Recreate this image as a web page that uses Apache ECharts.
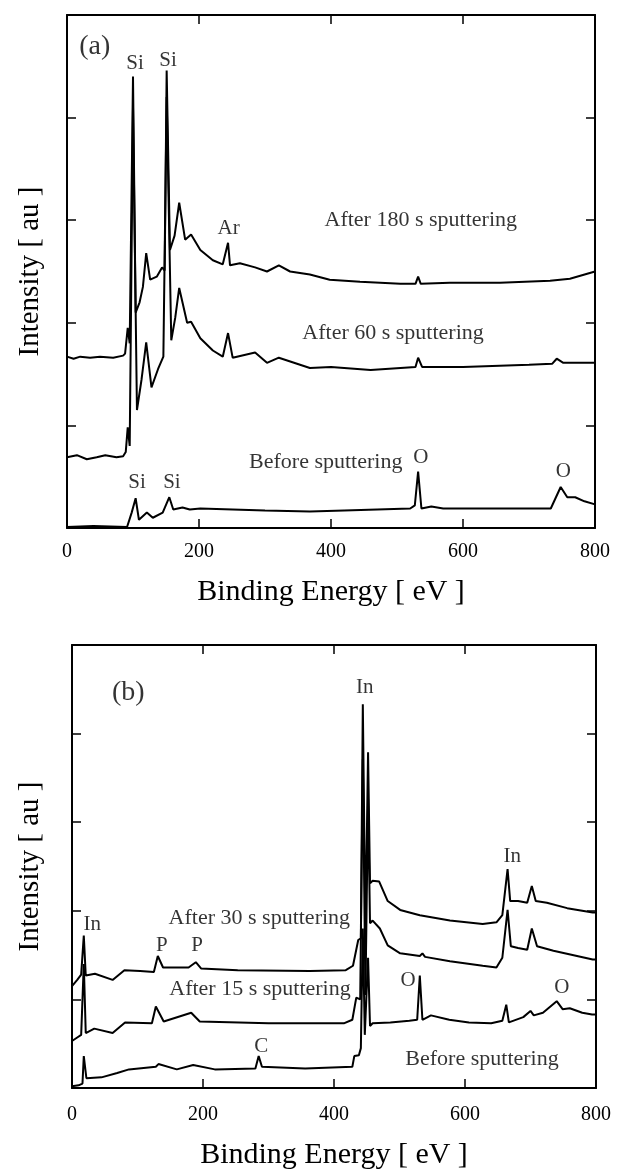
<!DOCTYPE html>
<html>
<head>
<meta charset="utf-8">
<script src="https://cdn.jsdelivr.net/npm/echarts/dist/echarts.min.js"></script>
<style>
html,body{margin:0;padding:0;background:#fff;}
#chart{width:619px;height:1171px;}
</style>
</head>
<body>
<div id="chart"></div>
<script>
// panel (a): Si sample, x = binding energy (eV), y = intensity (au, offset)
var a180 = [[0,1.67],[10,1.65],[20,1.67],[35,1.66],[50,1.67],[70,1.66],[85,1.68],[88,1.70],[92,1.95],[95,1.80],
  [100,4.40],[104,2.10],[110,2.20],[115,2.35],[120,2.68],[126,2.42],[136,2.45],[144,2.54],[148,2.51],[151,4.46],
  [156,2.71],[163,2.85],[170,3.17],[179,2.81],[188,2.86],[202,2.71],[221,2.61],[236,2.57],[244,2.78],[247,2.56],
  [262,2.58],[285,2.54],[303,2.50],[321,2.56],[338,2.50],[368,2.47],[398,2.42],[444,2.40],[505,2.38],[528,2.38],
  [532,2.45],[536,2.38],[580,2.39],[656,2.39],[732,2.41],[762,2.43],[800,2.50]];
var a60 = [[0,0.69],[15,0.71],[30,0.67],[45,0.69],[58,0.71],[75,0.69],[85,0.70],[89,0.74],[92,0.98],[95,0.80],
  [100,4.10],[106,1.15],[113,1.45],[120,1.81],[128,1.37],[138,1.55],[146,1.67],[151,4.20],[158,1.83],[164,2.05],
  [170,2.34],[182,2.00],[188,2.01],[202,1.85],[221,1.73],[236,1.67],[244,1.90],[251,1.66],[285,1.71],[303,1.61],
  [321,1.66],[368,1.56],[400,1.57],[460,1.54],[528,1.57],[532,1.66],[538,1.57],[600,1.57],[700,1.59],[735,1.60],
  [742,1.65],[752,1.61],[800,1.61]];
var aBefore = [[0,0.01],[40,0.02],[91,0.01],[98,0.15],[104,0.29],[109,0.08],[121,0.15],[130,0.10],[145,0.15],
  [155,0.30],[161,0.18],[175,0.20],[186,0.18],[202,0.19],[300,0.17],[368,0.16],[420,0.17],[520,0.19],[527,0.22],
  [532,0.55],[537,0.19],[552,0.21],[570,0.19],[733,0.19],[748,0.40],[758,0.30],[770,0.30],[784,0.26],[800,0.23]];
var labelsA = [[42,4.69,'(a)'],[103,4.53,'Si'],[153,4.56,'Si'],[245,2.92,'Ar'],[536,3.00,'After 180 s sputtering'],
  [494,1.90,'After 60 s sputtering'],[392,0.64,'Before sputtering'],[106,0.44,'Si'],[159,0.44,'Si'],
  [536,0.69,'O'],[752,0.55,'O']];

// panel (b): InP sample
var b30 = [[0,1.15],[8,1.22],[14,1.28],[18,1.72],[21,1.27],[35,1.29],[62,1.22],[80,1.33],[104,1.32],[125,1.31],
  [131,1.49],[139,1.36],[178,1.36],[189,1.42],[197,1.35],[253,1.33],[363,1.32],[418,1.33],[429,1.38],[437,1.67],
  [441,1.69],[444,4.33],[448,1.75],[452,3.79],[455,2.31],[459,2.34],[469,2.33],[482,2.11],[501,2.01],[531,1.95],
  [577,1.89],[627,1.85],[648,1.87],[657,1.95],[665,2.47],[669,2.11],[681,2.11],[695,2.09],[702,2.28],[708,2.11],
  [725,2.09],[756,2.03],[795,1.98],[800,1.98]];
var b15 = [[0,0.53],[8,0.57],[14,0.60],[18,1.40],[21,0.62],[34,0.67],[62,0.62],[81,0.74],[122,0.73],[128,0.92],
  [140,0.75],[182,0.85],[195,0.75],[300,0.73],[415,0.73],[428,0.77],[434,1.02],[440,1.00],[444,3.71],[448,1.05],
  [452,3.26],[455,1.86],[459,1.89],[470,1.80],[482,1.61],[501,1.52],[531,1.49],[535,1.52],[539,1.48],[577,1.43],
  [627,1.38],[648,1.36],[657,1.47],[665,2.01],[670,1.60],[681,1.58],[695,1.56],[702,1.80],[710,1.60],[735,1.55],
  [795,1.45],[800,1.45]];
var bBefore = [[0,0.02],[10,0.03],[16,0.05],[18,0.36],[22,0.11],[45,0.12],[69,0.17],[87,0.21],[128,0.24],[132,0.27],
  [160,0.21],[185,0.26],[218,0.21],[280,0.22],[285,0.36],[290,0.24],[356,0.22],[428,0.24],[431,0.36],[438,0.37],
  [441,0.45],[444,1.80],[447,0.60],[452,1.47],[455,0.70],[459,0.73],[486,0.74],[515,0.76],[527,0.77],[531,1.27],
  [535,0.77],[548,0.82],[576,0.77],[606,0.74],[640,0.73],[657,0.76],[663,0.94],[667,0.74],[689,0.80],[700,0.87],
  [705,0.82],[719,0.85],[740,0.98],[749,0.89],[760,0.90],[779,0.85],[794,0.83],[800,0.83]];
var labelsB = [[86,4.46,'(b)'],[447,4.52,'In'],[672,2.61,'In'],[31,1.84,'In'],[137,1.61,'P'],[191,1.61,'P'],
  [286,1.92,'After 30 s sputtering'],[287,1.12,'After 15 s sputtering'],[513,1.21,'O'],[748,1.13,'O'],
  [289,0.47,'C'],[626,0.33,'Before sputtering']];

var xTicks = {min: 0, max: 800, interval: 200};
var yTicks = {min: 0, max: 5, interval: 1};
var FONT = 'Liberation Serif';

var myChart = echarts.init(document.getElementById('chart'));

function xAxis(grid, top, gap, margin) {
  return {
    type: 'value', gridIndex: grid, position: top ? 'top' : 'bottom',
    min: xTicks.min, max: xTicks.max, interval: xTicks.interval,
    name: top ? '' : 'Binding Energy [ eV ]', nameLocation: 'middle', nameGap: gap,
    nameTextStyle: {fontFamily: FONT, fontSize: 30, color: '#000'},
    axisLine: {show: true, onZero: false, lineStyle: {color: '#000', width: 2}},
    axisTick: {show: true, inside: true, length: 9, lineStyle: {color: '#000', width: 1.5}},
    axisLabel: {show: !top, margin: margin, fontFamily: FONT, fontSize: 20, color: '#000'},
    splitLine: {show: false}
  };
}
function yAxis(grid, right, gap) {
  return {
    type: 'value', gridIndex: grid, position: right ? 'right' : 'left',
    min: yTicks.min, max: yTicks.max, interval: yTicks.interval,
    name: right ? '' : 'Intensity [ au ]', nameLocation: 'middle', nameGap: gap, nameRotate: 90,
    nameTextStyle: {fontFamily: FONT, fontSize: 29, color: '#000'},
    axisLine: {show: true, onZero: false, lineStyle: {color: '#000', width: 2}},
    axisTick: {show: true, inside: true, length: 9, lineStyle: {color: '#000', width: 1.5}},
    axisLabel: {show: false},
    splitLine: {show: false}
  };
}
function curve(data, xi, yi) {
  return {
    type: 'line', xAxisIndex: xi, yAxisIndex: yi, data: data,
    showSymbol: false, symbol: 'none', smooth: false, clip: true,
    lineStyle: {color: '#000', width: 2}
  };
}
function notes(list, xi, yi) {
  return {
    type: 'scatter', xAxisIndex: xi, yAxisIndex: yi, symbolSize: 0, silent: true,
    data: list.map(function (d) {
      var big = d[2].charAt(0) === '(';
      return {value: [d[0], d[1]], name: d[2],
        label: {fontSize: big ? 28 : (d[2].length > 3 ? 22 : 21)}};
    }),
    label: {show: true, position: 'inside', color: '#000', fontFamily: FONT,
      formatter: function (p) { return p.name; }}
  };
}

var option = {
  backgroundColor: '#fff',
  animation: false,
  grid: [
    {left: 67, top: 15, width: 528, height: 513},
    {left: 72, top: 645, width: 524, height: 446}
  ],
  xAxis: [xAxis(0, false, 49, 14), xAxis(0, true), xAxis(1, false, 52, 17), xAxis(1, true)],
  yAxis: [yAxis(0, false, 22), yAxis(0, true), yAxis(1, false, 27), yAxis(1, true)],
  series: [
    curve(a180, 0, 0), curve(a60, 0, 0), curve(aBefore, 0, 0), notes(labelsA, 0, 0),
    curve(b30, 2, 2), curve(b15, 2, 2), curve(bBefore, 2, 2), notes(labelsB, 2, 2)
  ]
};
myChart.setOption(option);
</script>
</body>
</html>
